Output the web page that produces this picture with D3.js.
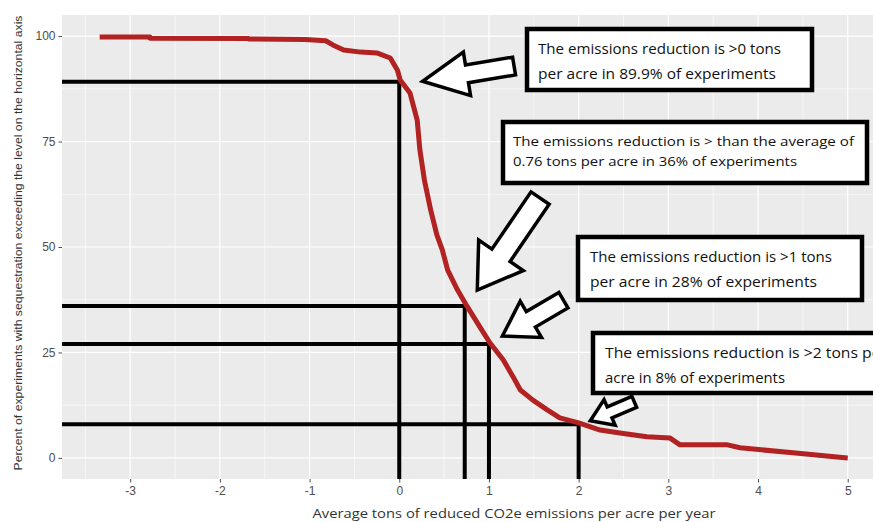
<!DOCTYPE html>
<html>

<head>
    <script src="https://d3js.org/d3.v7.min.js"></script>
    <style>
        body {
            margin: 0;
            background: #fff;
        }

        .tick-label {
            font-family: "Liberation Sans", Arial, sans-serif;
            font-size: 12px;
            fill: #4d4d4d;
        }

        .axis-title {
            font-family: "Liberation Sans", Arial, sans-serif;
            font-size: 11px;
            fill: #333;
        }

        .x-title {
            font-family: "Open Sans", sans-serif;
            font-size: 13px;
            fill: #333;
        }

        .callout {
            font-family: "Open Sans", sans-serif;
            font-size: 14px;
            fill: #111;
        }
    </style>
</head>

<body>
    <script>
        // survival curve: x = tons per acre, pct = % of experiments above x
        var curveX = [-3.34, -2.78, -2.78, -1.68, -1.68, -1.05, -0.82, -0.74, -0.62, -0.43, -0.25, -0.10, -0.02, 0.01,
            0.12, 0.20, 0.23, 0.28, 0.35, 0.42, 0.48, 0.54, 0.65, 0.76, 0.90, 1.01, 1.16, 1.27, 1.35, 1.49, 1.65,
            1.79, 2.00, 2.24, 2.46, 2.76, 3.02, 3.13, 3.66, 3.80, 4.39, 4.88, 5.00
        ];
        var curvePct = [99.8, 99.8, 99.5, 99.4, 99.3, 99.2, 98.9, 97.9, 96.7, 96.2, 96.0, 94.8, 91.9, 89.6,
            86.5, 80.1, 73.0, 65.9, 58.8, 52.8, 49.3, 44.5, 39.8, 35.8, 31.0, 27.3, 23.2, 19.2, 16.1, 13.7, 11.4,
            9.5, 8.3, 6.6, 5.9, 5.0, 4.7, 3.1, 3.1, 2.4, 1.2, 0.2, 0.0
        ];

        // reference levels (black guide lines)
        var refX = [0, 0.73, 1, 2];
        var refPct = [89.2, 36, 27, 8];

        var xTicks = [-3, -2, -1, 0, 1, 2, 3, 4, 5];
        var xMinor = [-3.5, -2.5, -1.5, -0.5, 0.5, 1.5, 2.5, 3.5, 4.5];
        var yTicks = [0, 25, 50, 75, 100];
        var yMinor = [12.5, 37.5, 62.5, 87.5];

        var calloutLines = [
            ["The emissions reduction is >0 tons", "per acre in 89.9% of experiments"],
            ["The emissions reduction is > than the average of", "0.76 tons per acre in 36% of experiments"],
            ["The emissions reduction is >1 tons", "per acre in 28% of experiments"],
            ["The emissions reduction is >2 tons per", "acre in 8% of experiments"]
        ];

        // arrows: tail and tip in data units
        var arrowTail = [[1.28, 92.9], [1.57, 61.6], [1.83, 37.4], [2.62, 13.3]];
        var arrowTip = [[0.26, 89.3], [0.87, 39.8], [1.15, 28.9], [2.13, 8.8]];

        var width = 873,
            height = 522;

        var svg = d3.select("body").append("svg")
            .attr("width", width)
            .attr("height", height);

        var x = d3.scaleLinear().domain([-3.76, 5.42]).range([62, 885.4]);
        var y = d3.scaleLinear().domain([-5, 105]).range([479, 15]);

        // panel
        svg.append("rect")
            .attr("x", x.range()[0]).attr("y", y.range()[1])
            .attr("width", x.range()[1] - x.range()[0])
            .attr("height", y.range()[0] - y.range()[1])
            .attr("fill", "#ebebeb");

        // grid
        var grid = svg.append("g").attr("stroke", "#fff");
        grid.selectAll(".xm").data(xMinor).enter().append("line")
            .attr("x1", x).attr("x2", x).attr("y1", y.range()[1]).attr("y2", y.range()[0])
            .attr("stroke-width", 0.6);
        grid.selectAll(".ym").data(yMinor).enter().append("line")
            .attr("x1", x.range()[0]).attr("x2", x.range()[1]).attr("y1", y).attr("y2", y)
            .attr("stroke-width", 0.6);
        grid.selectAll(".xM").data(xTicks).enter().append("line")
            .attr("x1", x).attr("x2", x).attr("y1", y.range()[1]).attr("y2", y.range()[0])
            .attr("stroke-width", 1.2);
        grid.selectAll(".yM").data(yTicks).enter().append("line")
            .attr("x1", x.range()[0]).attr("x2", x.range()[1]).attr("y1", y).attr("y2", y)
            .attr("stroke-width", 1.2);

        // axes
        var xAxis = svg.append("g")
            .attr("transform", "translate(0," + y.range()[0] + ")")
            .call(d3.axisBottom(x).tickValues(xTicks).tickSize(3.5).tickPadding(4).tickFormat(d3.format("d")));
        var yAxis = svg.append("g")
            .attr("transform", "translate(" + x.range()[0] + ",0)")
            .call(d3.axisLeft(y).tickValues(yTicks).tickSize(3.5).tickPadding(3));
        [xAxis, yAxis].forEach(function(a) {
            a.select(".domain").remove();
            a.selectAll(".tick line").attr("stroke", "#4d4d4d");
            a.selectAll(".tick text").attr("class", "tick-label").attr("fill", null);
        });
        xAxis.selectAll(".tick text").text(function(d) {
            return d < 0 ? "-" + Math.abs(d) : d;
        });

        // axis titles
        svg.append("text")
            .attr("class", "x-title")
            .attr("x", 514).attr("y", 518)
            .attr("text-anchor", "middle")
            .attr("textLength", 403).attr("lengthAdjust", "spacingAndGlyphs")
            .text("Average tons of reduced CO2e emissions per acre per year");
        svg.append("text")
            .attr("class", "axis-title")
            .attr("transform", "translate(22,243) rotate(-90)")
            .attr("text-anchor", "middle")
            .attr("textLength", 455).attr("lengthAdjust", "spacingAndGlyphs")
            .text("Percent of experiments with sequestration exceeding the level on the horizontal axis");

        // black guide lines
        var guides = svg.append("g").attr("stroke", "#000").attr("stroke-width", 4).attr("fill", "none");
        refX.forEach(function(v, i) {
            guides.append("path")
                .attr("d", "M" + x.range()[0] + "," + y(refPct[i]) + "H" + x(v) + "V" + y.range()[0]);
        });

        // red curve
        var pts = curveX.map(function(v, i) {
            return [v, curvePct[i]];
        });
        svg.append("path")
            .datum(pts)
            .attr("fill", "none")
            .attr("stroke", "#b22222")
            .attr("stroke-width", 5)
            .attr("stroke-linejoin", "round")
            .attr("d", d3.line().x(function(d) {
                return x(d[0]);
            }).y(function(d) {
                return y(d[1]);
            }));

        // block arrows
        var arrowSize = [
            [9, 22, 45],
            [11, 27, 42],
            [9, 21, 33],
            [6, 14, 21]
        ]; // shaft half width, head half width, head length
        arrowTip.forEach(function(tp, i) {
            var tx = x(arrowTail[i][0]), ty = y(arrowTail[i][1]);
            var px = x(tp[0]), py = y(tp[1]);
            var len = Math.hypot(px - tx, py - ty);
            var ux = (px - tx) / len, uy = (py - ty) / len;
            var nx = -uy, ny = ux;
            var s = arrowSize[i];
            var bx = px - ux * s[2], by = py - uy * s[2];
            var poly = [
                [tx + nx * s[0], ty + ny * s[0]],
                [bx + nx * s[0], by + ny * s[0]],
                [bx + nx * s[1], by + ny * s[1]],
                [px, py],
                [bx - nx * s[1], by - ny * s[1]],
                [bx - nx * s[0], by - ny * s[0]],
                [tx - nx * s[0], ty - ny * s[0]]
            ];
            svg.append("polygon")
                .attr("points", poly.map(function(p) {
                    return p.join(",");
                }).join(" "))
                .attr("fill", "#fff")
                .attr("stroke", "#000")
                .attr("stroke-width", 3.5)
                .attr("stroke-linejoin", "miter");
        });

        // callout boxes
        var boxes = [
            { x: 527, y: 29, w: 285, h: 61, tx: 538, ty: [54, 79], tl: [243, 238], fs: 14 },
            { x: 503, y: 122, w: 364, h: 61, tx: 513, ty: [146, 166], tl: [341, 284], fs: 13.5 },
            { x: 578, y: 237, w: 284, h: 63, tx: 590, ty: [262, 287], tl: [242, 227], fs: 14 },
            { x: 593, y: 333, w: 300, h: 60, tx: 605, ty: [358, 383], tl: [282, 180], fs: 14 }
        ];
        boxes.forEach(function(b, i) {
            var g = svg.append("g");
            g.append("rect")
                .attr("x", b.x).attr("y", b.y).attr("width", b.w).attr("height", b.h)
                .attr("fill", "#fff").attr("stroke", "#000").attr("stroke-width", 4.5);
            calloutLines[i].forEach(function(t, j) {
                g.append("text")
                    .attr("class", "callout")
                    .attr("x", b.tx).attr("y", b.ty[j])
                    .style("font-size", b.fs + "px")
                    .attr("textLength", b.tl[j]).attr("lengthAdjust", "spacingAndGlyphs")
                    .text(t);
            });
        });
    </script>
</body>

</html>
